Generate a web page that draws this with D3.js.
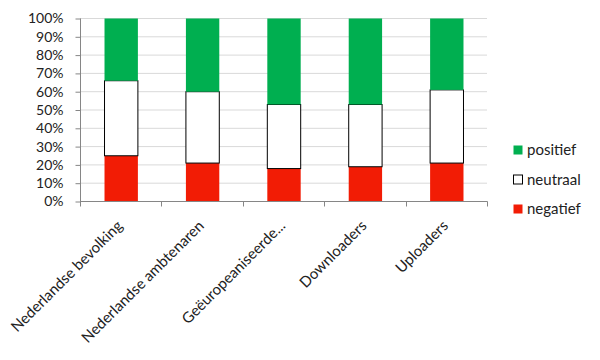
<!DOCTYPE html>
<html>
<head>
<meta charset="utf-8">
<script src="https://cdn.jsdelivr.net/npm/d3@7/dist/d3.min.js"></script>
<style>
  html, body { margin: 0; padding: 0; background: #fff; }
  svg { display: block; }
  text { font-family: Lato, "Open Sans", sans-serif; fill: #222; }
</style>
</head>
<body>
<svg id="chart" width="600" height="360"></svg>
<script>
const categories = ["Nederlandse bevolking", "Nederlandse ambtenaren", "Geëuropeaniseerde...", "Downloaders", "Uploaders"];
const negatief = [25, 21, 18, 19, 21];
const neutraal = [41, 39, 35, 34, 40];
const positief = [34, 40, 47, 47, 39];
const yTicks = [0, 10, 20, 30, 40, 50, 60, 70, 80, 90, 100];
const seriesNames = ["negatief", "neutraal", "positief"];
const legendOrder = ["positief", "neutraal", "negatief"];

(function () {
const colors = { negatief: "#F21C05", neutraal: "#FFFFFF", positief: "#00AF50" };

const svg = d3.select("#chart");
const pLeft = 80, pRight = 487, pTop = 18, pBottom = 201;

const x = d3.scaleBand().domain(categories).range([pLeft, pRight])
  .paddingInner(0.59).paddingOuter(0.295);
const y = d3.scaleLinear().domain([0, 100]).range([pBottom, pTop]);

// gridlines
svg.append("g").selectAll("line").data(yTicks.filter(d => d > 0)).join("line")
  .attr("x1", pLeft).attr("x2", pRight)
  .attr("y1", d => y(d) + 0.5).attr("y2", d => y(d) + 0.5)
  .attr("stroke", "#D9D9D9").attr("stroke-width", 1);

// y axis
const yAxis = d3.axisLeft(y).tickValues(yTicks).tickFormat(d => d + "%").tickSize(5).tickPadding(12);
const gy = svg.append("g").attr("transform", `translate(${pLeft + 0.5},0.5)`).call(yAxis);
gy.select(".domain").attr("stroke", "#868686").attr("d", `M0,${y(0)}V${y(100)}`);
gy.selectAll(".tick line").attr("stroke", "#868686");
gy.selectAll(".tick text").style("font-family", "Lato, sans-serif").style("font-size", "14px").attr("fill", "#222");

// stacked bars
const rows = categories.map((c, i) => ({ cat: c, negatief: negatief[i], neutraal: neutraal[i], positief: positief[i] }));
const stack = d3.stack().keys(seriesNames)(rows);
svg.append("g").selectAll("g").data(stack).join("g")
  .selectAll("rect").data(s => s.map(d => ({ key: s.key, d }))).join("rect")
  .attr("x", o => x(o.d.data.cat) + 0.5)
  .attr("width", x.bandwidth())
  .attr("y", o => y(o.d[1]) + 0.5)
  .attr("height", o => y(o.d[0]) - y(o.d[1]))
  .attr("fill", o => colors[o.key])
  .attr("stroke", o => o.key === "neutraal" ? "#000" : "none")
  .attr("stroke-width", 1);

// x axis with boundary ticks
const gx = svg.append("g").attr("transform", `translate(0,${pBottom + 0.5})`);
gx.append("line").attr("x1", pLeft).attr("x2", pRight + 0.5).attr("stroke", "#868686");
const bounds = categories.map(c => x(c) - x.step() * x.paddingInner() / 2);
bounds.push(pRight);
gx.selectAll("line.tk").data(bounds).join("line").attr("class", "tk")
  .attr("x1", d => Math.round(d) + 0.5).attr("x2", d => Math.round(d) + 0.5)
  .attr("y1", 0).attr("y2", 5).attr("stroke", "#868686");

// category labels rotated
svg.append("g").selectAll("text").data(categories).join("text")
  .attr("transform", d => `translate(${x(d) + x.bandwidth() / 2 - 1},${pBottom + 22}) rotate(-45)`)
  .attr("text-anchor", "end")
  .attr("dy", "0.35em")
  .style("font-size", "15px")
  .text(d => d);

// legend
const lg = svg.append("g").selectAll("g").data(legendOrder).join("g")
  .attr("transform", (d, i) => `translate(513,${150 + i * 29.5})`);
lg.append("rect").attr("x", 0.5).attr("y", -4.5).attr("width", 9).attr("height", 9)
  .attr("fill", d => colors[d]).attr("stroke", d => d === "neutraal" ? "#000" : "none");
lg.append("text").attr("x", 14).attr("dy", "0.35em").style("font-size", "15px").text(d => d);
})();
</script>
</body>
</html>
